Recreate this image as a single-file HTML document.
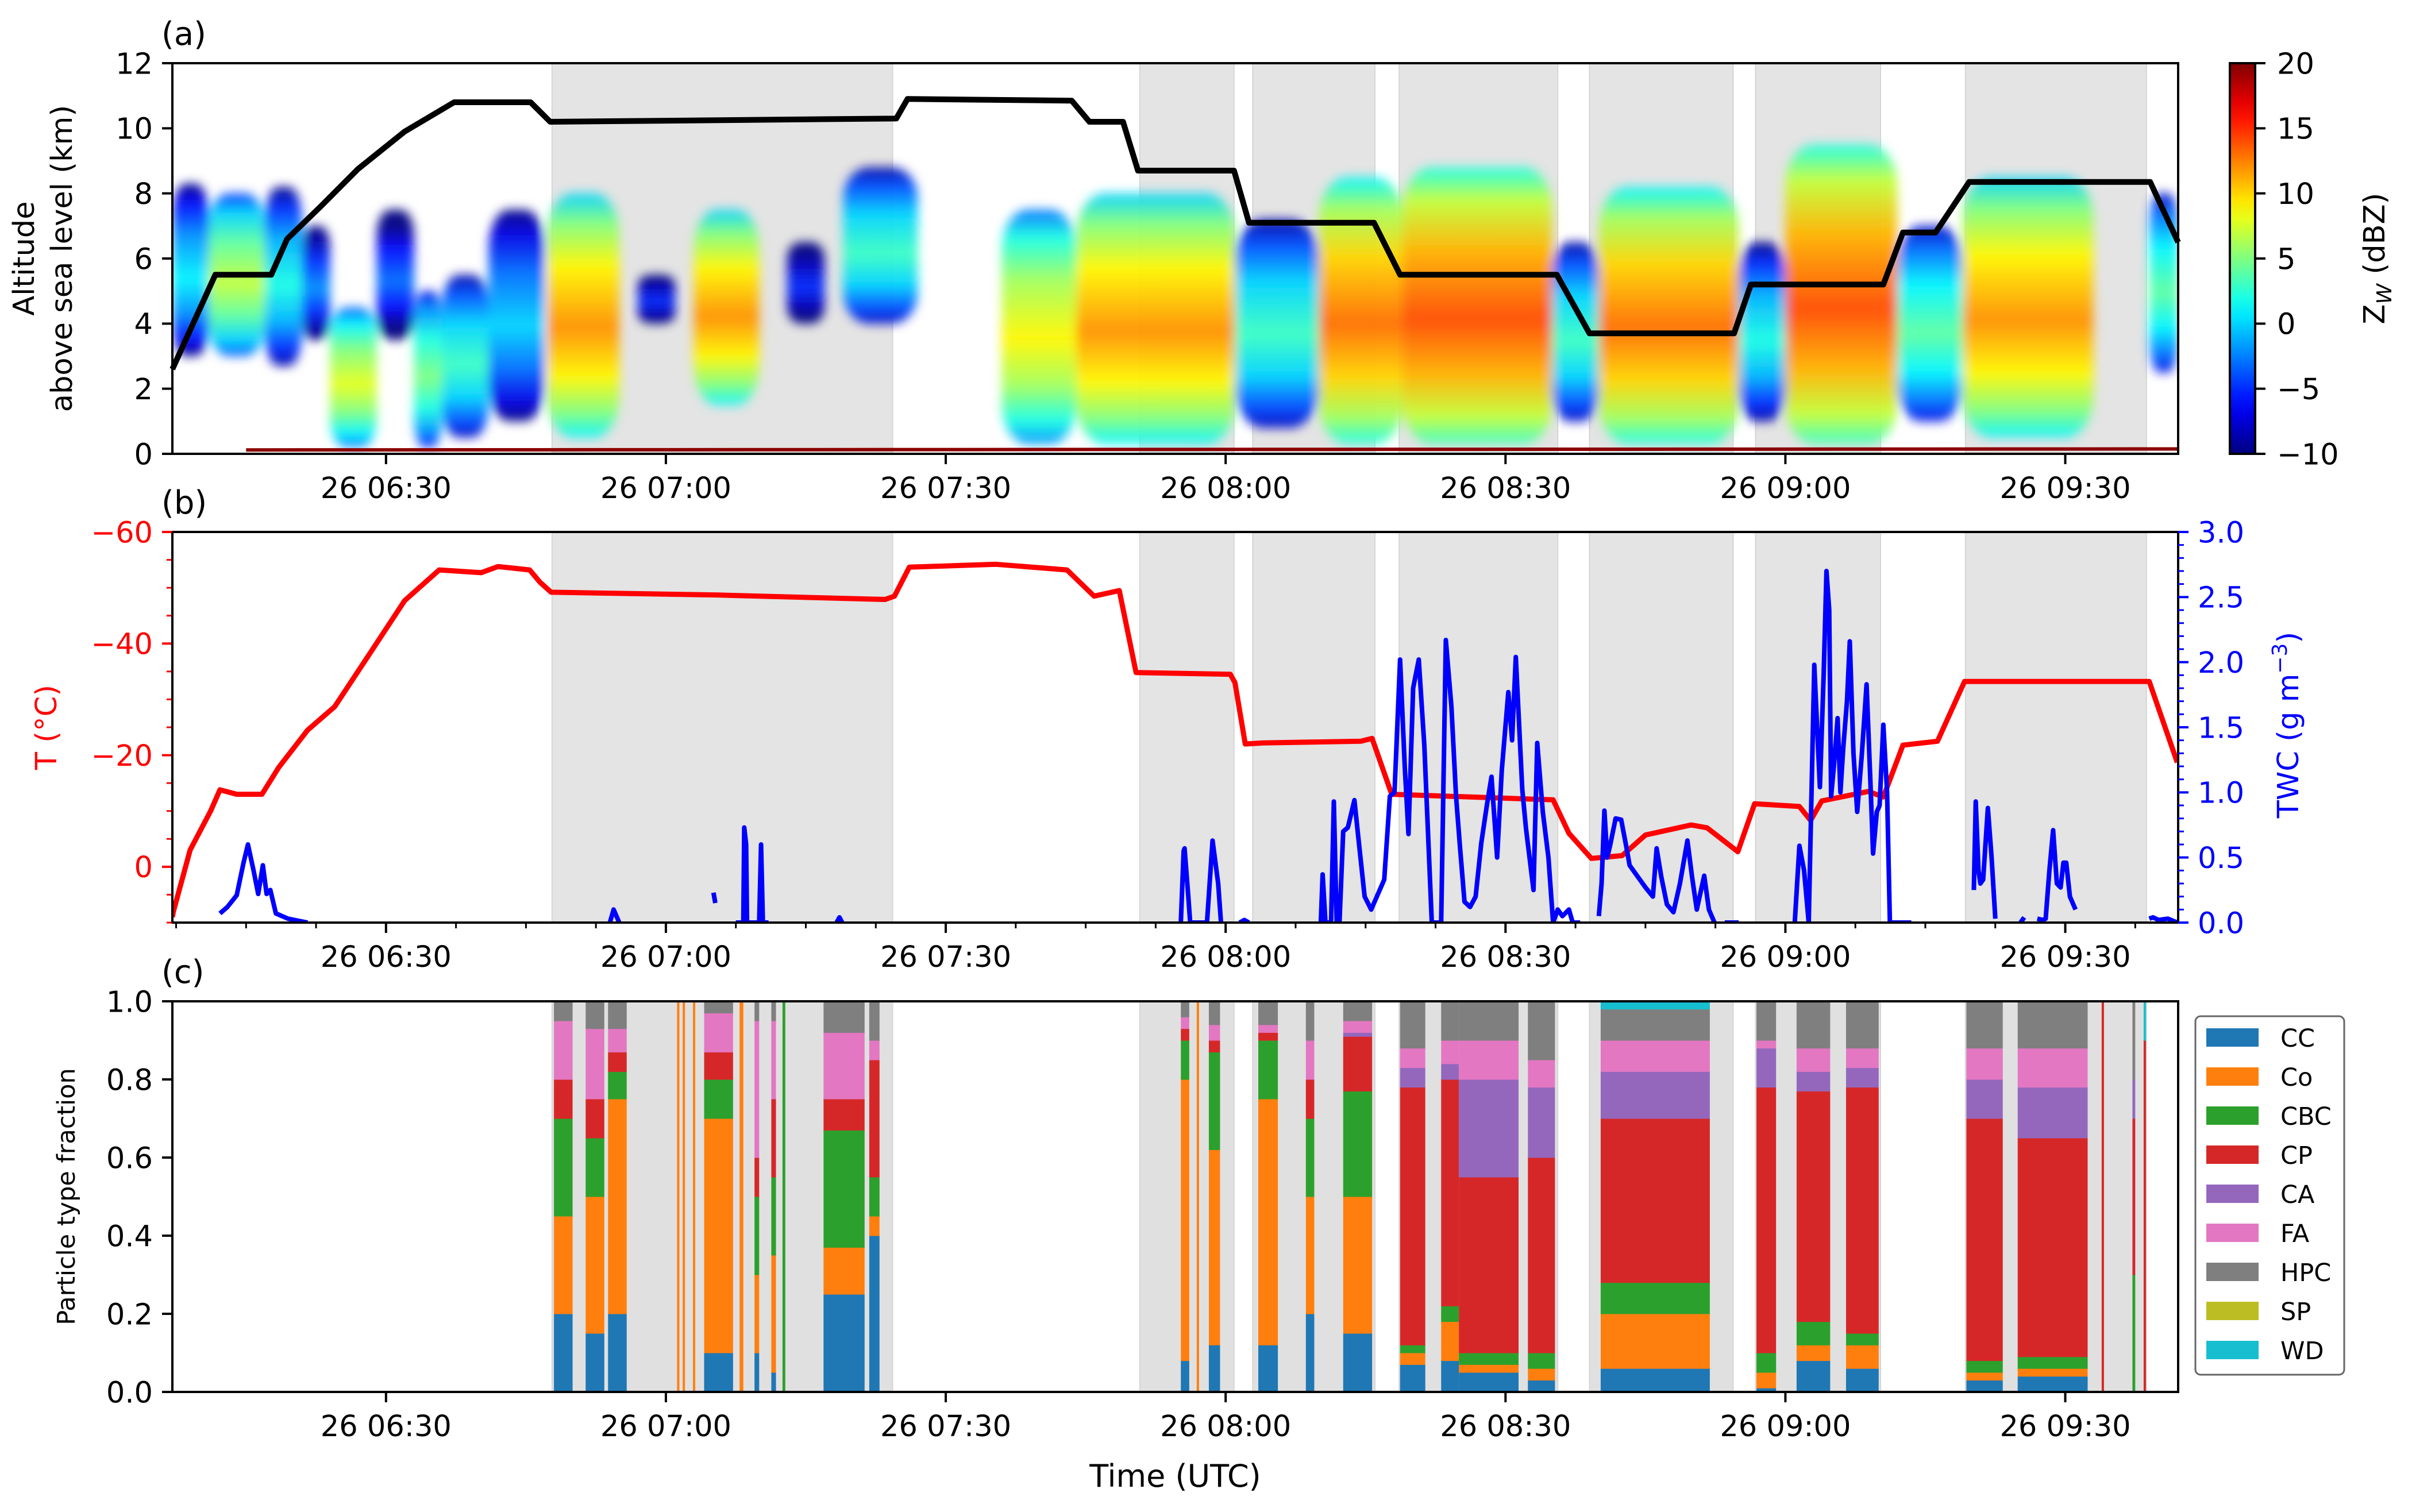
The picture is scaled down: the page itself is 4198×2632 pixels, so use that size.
<!DOCTYPE html>
<html><head><meta charset="utf-8">
<style>
html,body{margin:0;padding:0;background:#fff;}
svg{display:block;font-family:"DejaVu Sans","Liberation Sans",sans-serif;}
</style></head>
<body>
<svg id="fig" width="4198" height="2632" viewBox="0 0 4198 2632" xmlns="http://www.w3.org/2000/svg">
<defs id="defs">
<filter id="soft" x="-20%" y="-20%" width="140%" height="140%"><feGaussianBlur stdDeviation="9"/></filter>
</defs>
</svg>
<script>
// ---------- data ----------
const shadeStart = [47.8, 110.8, 122.9, 138.6, 159.0, 176.8, 199.3];
const shadeEnd   = [84.3, 120.9, 136.0, 155.6, 174.4, 190.2, 218.7];

const xTickTimes  = [30, 60, 90, 120, 150, 180, 210];
const xTickLabels = ['26 06:30','26 07:00','26 07:30','26 08:00','26 08:30','26 09:00','26 09:30'];

// altitude (km)
const altT = [7.1,11.7,17.0,17.7,19.4,23,27,32,37.3,45.5,47.6,84.7,85.9,103.5,105.4,109.0,110.6,120.9,122.5,135.9,138.7,155.5,159.0,174.5,176.3,190.5,192.6,196.1,199.7,219.1,222.1];
const altV = [2.6,5.5,5.5,5.5,6.6,7.6,8.75,9.9,10.8,10.8,10.2,10.3,10.9,10.85,10.2,10.2,8.7,8.7,7.1,7.1,5.5,5.5,3.7,3.7,5.2,5.2,6.8,6.8,8.35,8.35,6.5];

// radar cloud regions
const cloudStart = [7.1,11,17,21,24,29,33,36,41,47.3,57,63,73,79,96,104,121,130,139,155,160,175,180,192,199,219];
const cloudEnd   = [11,17,21,24,29,33,36,41,47,55,61,70,77,87,104,121,130,139,155,160,175,180,192,199,213,222.1];
const cloudBase  = [3.0,3.0,2.7,3.5,0.2,3.5,0.2,0.5,1.0,0.5,4.0,1.5,4.0,4.0,0.3,0.3,0.8,0.3,0.3,1.0,0.3,1.0,0.3,1.0,0.5,2.5];
const cloudTop   = [8.3,8.0,8.2,7.0,4.5,7.5,5.0,5.5,7.5,8.0,5.5,7.5,6.5,8.8,7.5,8.0,7.2,8.5,8.8,6.5,8.2,6.5,9.5,7.0,8.5,8.0];
const cloudPeak  = [1,7,2,-2,8,-3,5,3,0,12,-5,12,-5,3,9,12,3,13,14,3,13,2,14,4,12,4];

// temperature (degC)
const tempT = [7.1,7.2,9,11.2,12.2,14,16.7,18.5,21.6,24.5,28.3,32.0,35.7,40.2,42,45.4,46.5,47.7,65.6,83.5,84.5,86.1,95.4,103.0,105.9,108.6,110.4,120.5,121,122.1,124,134.5,135.7,137.8,155.1,156.8,159.2,162.5,165.0,169.9,171.6,174.9,176.7,181.5,182.7,183.9,188.9,190.5,192.6,196.3,199.2,219.0,222.0];
const tempV = [9,8.1,-3,-10,-13.8,-13,-13,-17.8,-24.5,-28.7,-38.3,-47.7,-53.2,-52.7,-53.8,-53.2,-51,-49.2,-48.7,-47.9,-48.5,-53.7,-54.2,-53.2,-48.5,-49.5,-34.8,-34.5,-33,-22,-22.2,-22.5,-23,-13,-12,-6,-1.5,-2,-5.7,-7.5,-7,-2.7,-11.3,-10.8,-8.3,-11.8,-13.5,-12.5,-21.8,-22.5,-33.2,-33.2,-18.7];

// total water content (g m-3); null = gap
const twcT = [12.2,13,14,14.7,15.2,15.8,16.3,16.8,17.2,17.6,18.2,19.5,21.6,null,
54.0,54.4,54.7,55,null,65.1,65.3,null,
67.5,68.3,68.4,68.6,68.7,70.0,70.2,70.4,71,null,78.3,78.6,78.9,null,
115.2,115.5,115.6,116,116.2,118.0,118.6,119.2,119.5,null,121.5,122,122.5,null,
130.2,130.4,130.7,131.3,131.6,131.9,132.2,132.6,133.1,133.8,134.3,134.9,135.6,137.0,137.6,138.1,138.7,139.2,139.6,140.1,140.7,141.3,142.1,143.1,143.6,144.2,144.7,145.1,145.6,146.2,146.8,147.4,148.0,148.5,149.1,149.6,150.3,150.7,151.1,151.8,152.2,153.0,153.4,154.0,154.6,155.1,155.6,156.1,156.8,157.2,158,null,
160.0,160.3,160.6,160.9,161.2,161.8,162.4,162.9,163.3,164.2,165.0,165.8,166.2,166.7,167.3,168.0,168.7,169.5,170.0,170.5,171.3,171.8,172.4,null,173.5,175.0,null,
181.0,181.5,182.0,182.5,183.1,183.4,183.7,184.1,184.4,184.7,184.9,185.2,185.6,185.9,186.2,186.6,186.9,187.3,187.7,188.2,188.7,189.1,189.4,189.8,190.1,190.5,190.9,191.2,193.5,null,
200.2,200.4,200.7,200.9,201.2,201.7,202.1,202.5,null,205.2,205.6,null,
207.0,207.6,207.9,208.3,208.7,209.1,209.5,209.8,210.1,210.5,211.1,null,219.0,219.4,220,221,222];
const twcV = [0.07,0.12,0.21,0.45,0.6,0.4,0.22,0.44,0.22,0.25,0.07,0.03,0,null,
0,0.1,0.05,0,null,0.23,0.15,null,
0,0,0.73,0.6,0,0,0.6,0,0,null,0,0.04,0,null,
0,0.55,0.57,0.2,0,0,0.63,0.3,0,null,0,0.02,0,null,
0,0.37,0,0,0.93,0,0,0.7,0.73,0.94,0.6,0.2,0.1,0.33,0.97,1.0,2.02,1.2,0.68,1.8,2.02,1.36,0,0,2.17,1.66,0.97,0.6,0.16,0.12,0.2,0.61,0.9,1.12,0.5,1.17,1.77,1.4,2.04,1.02,0.72,0.25,1.38,0.85,0.5,0,0.1,0.05,0.1,0,0,null,
0.05,0.3,0.86,0.5,0.59,0.8,0.79,0.6,0.44,0.35,0.27,0.2,0.57,0.35,0.14,0.08,0.3,0.63,0.35,0.1,0.36,0.1,0,null,0,0,null,
0,0.59,0.4,0,1.98,1.5,1.04,1.9,2.7,2.4,0.97,1.2,1.57,1.0,1.34,1.7,2.16,1.3,0.85,1.3,1.83,1.1,0.53,0.85,0.9,1.52,1.0,0,0,null,
0.25,0.93,0.4,0.3,0.33,0.88,0.5,0.03,null,0,0.04,null,
0.03,0.02,0.03,0.4,0.71,0.3,0.27,0.46,0.46,0.2,0.1,null,0.03,0.04,0.02,0.03,0];

// particle type fractions per segment
const classNames = ['CC','Co','CBC','CP','CA','FA','HPC','SP','WD'];
const segStart = [48.0,51.4,53.8,61.2,61.8,62.9,64.1,67.9,69.5,71.3,72.5,76.9,81.8,115.2,116.9,118.2,123.5,128.6,132.6,138.7,143.1,145.0,152.4,160.2,176.9,181.2,186.5,199.4,204.9,213.9,217.2,218.4];
const segEnd   = [50.0,53.4,55.8,61.4,62.0,63.1,67.2,68.3,70.0,71.8,72.8,81.3,82.9,116.1,117.1,119.4,125.6,129.5,135.7,141.4,145.0,151.4,155.3,171.9,179.0,184.8,190.0,203.3,212.4,214.1,217.5,218.6];
const fracCC  = [.2,.15,.2,0,0,0,.1,0,.1,.05,0,.25,.4,.08,0,.12,.12,.2,.15,.07,.08,.05,.03,.06,.01,.08,.06,.03,.04,0,0,0];
const fracCo  = [.25,.35,.55,1,1,1,.6,1,.2,.3,0,.12,.05,.72,1,.5,.63,.3,.35,.03,.1,.02,.03,.14,.04,.04,.06,.02,.02,0,0,0];
const fracCBC = [.25,.15,.07,0,0,0,.1,0,.2,.2,1,.3,.1,.1,0,.25,.15,.2,.27,.02,.04,.03,.04,.08,.05,.06,.03,.03,.03,0,.3,0];
const fracCP  = [.1,.1,.05,0,0,0,.07,0,.1,.2,0,.08,.3,.03,0,.03,.02,.1,.14,.66,.58,.45,.5,.42,.68,.59,.63,.62,.56,1,.4,.9];
const fracCA  = [0,0,0,0,0,0,0,0,0,0,0,0,0,0,0,0,0,0,.01,.05,.04,.25,.18,.12,.1,.05,.05,.1,.13,0,.1,0];
const fracFA  = [.15,.18,.06,0,0,0,.1,0,.35,.2,0,.17,.05,.03,0,.04,.02,.1,.03,.05,.06,.1,.07,.08,.02,.06,.05,.08,.1,0,0,0];
const fracHPC = [.05,.07,.07,0,0,0,.03,0,.05,.05,0,.08,.1,.04,0,.06,.06,.1,.05,.12,.1,.1,.15,.08,.1,.12,.12,.12,.12,0,.2,0];
const fracSP  = [0,0,0,0,0,0,0,0,0,0,0,0,0,0,0,0,0,0,0,0,0,0,0,0,0,0,0,0,0,0,0,0];
const fracWD  = [0,0,0,0,0,0,0,0,0,0,0,0,0,0,0,0,0,0,0,0,0,0,0,.02,0,0,0,0,0,0,0,.1];

const cbTicks = [-10,-5,0,5,10,15,20];
const altTicks = [0,2,4,6,8,10,12];
const tempTicks = [-60,-40,-20,0];
const twcTicks = [0.0,0.5,1.0,1.5,2.0,2.5,3.0];
const fracTicks = [0.0,0.2,0.4,0.6,0.8,1.0];

// ---------- layout ----------
const NS='http://www.w3.org/2000/svg';
const svg=document.getElementById('fig');
const defs=document.getElementById('defs');
const X0=300,X1=3791,TMIN=7.1,TMAX=222.1;
const xs=t=>X0+(t-TMIN)*(X1-X0)/(TMAX-TMIN);
const A={top:110,bot:790}, B={top:926,bot:1606}, C={top:1743,bot:2423};
const yAlt=v=>A.bot-(v/12)*(A.bot-A.top);
const yT=v=>B.top+(v+60)/70*(B.bot-B.top);
const yW=v=>B.bot-(v/3)*(B.bot-B.top);
const yF=v=>C.bot-v*(C.bot-C.top);
const FS=51, TL=18, TW=4;

function el(tag,attrs,parent){const e=document.createElementNS(NS,tag);for(const k in attrs)e.setAttribute(k,attrs[k]);(parent||svg).appendChild(e);return e;}
function txt(s,attrs,parent){const e=el('text',attrs,parent);e.textContent=s;return e;}
function jet(v){v=Math.max(0,Math.min(1,v));const c=x=>Math.round(255*Math.max(0,Math.min(1,x)));
 return `rgb(${c(1.5-Math.abs(4*v-3))},${c(1.5-Math.abs(4*v-2))},${c(1.5-Math.abs(4*v-1))})`;}
const nz=d=>(d+10)/30;

function linePath(T,V,fy){let d='',pen=false;for(let i=0;i<T.length;i++){if(T[i]===null||V[i]===null){pen=false;continue;}
 d+=(pen?'L':'M')+xs(T[i]).toFixed(1)+' '+fy(V[i]).toFixed(1)+' ';pen=true;}return d;}

function shading(P,name,color){const g=el('g',{});
 for(let i=0;i<shadeStart.length;i++){const r=el('rect',{x:xs(shadeStart[i]),y:P.top,width:xs(shadeEnd[i])-xs(shadeStart[i]),height:P.bot-P.top,fill:color,stroke:'#d6d6d6','stroke-width':2},g);
  }}

function frame(P,name){const r=el('rect',{x:X0,y:P.top,width:X1-X0,height:P.bot-P.top,fill:'none',stroke:'#000','stroke-width':TW});
 }

function xAxis(P,name,minor){const g=el('g',{});
 for(let i=0;i<xTickTimes.length;i++){const x=xs(xTickTimes[i]);
  el('line',{x1:x,x2:x,y1:P.bot,y2:P.bot+TL,stroke:'#000','stroke-width':TW},g);
  const t=txt(xTickLabels[i],{x:x,y:P.bot+TL+20+FS*0.76,'font-size':FS,'text-anchor':'middle'},g);
  }
 if(minor){for(let t=7.5;t<TMAX;t+=7.5){if(t%30===0)continue;const x=xs(t);el('line',{x1:x,x2:x,y1:P.bot,y2:P.bot+10,stroke:'#000','stroke-width':3},g);}}}

function yAxis(ticks,fy,name,color,fmt,side){const g=el('g',{});
 ticks.forEach(v=>{const y=fy(v);const x=side==='r'?X1:X0;const dx=side==='r'?TL:-TL;
  el('line',{x1:x,x2:x+dx,y1:y,y2:y,stroke:color,'stroke-width':TW},g);
  const t=txt(fmt(v),{x:side==='r'?x+TL+16:x-TL-16,y:y+FS*0.36,'font-size':FS,'text-anchor':side==='r'?'start':'end',fill:color},g);
  });return g;}
const minus=s=>String(s).replace('-','\u2212');

// ---------- panel (a) ----------
shading(A,'panel-a-shading','#e4e4e4');
const clipA=el('clipPath',{id:'clipA'},defs);el('rect',{x:X0,y:A.top,width:X1-X0,height:A.bot-A.top},clipA);
const radar=el('g',{'clip-path':'url(#clipA)'});
const radarInner=el('g',{filter:'url(#soft)'},radar);
for(let i=0;i<cloudStart.length;i++){
 const id='cg'+i;const lg=el('linearGradient',{id:id,x1:0,y1:0,x2:0,y2:1},defs);
 const p=cloudPeak[i];
 [[0,p-12],[0.12,p-7],[0.3,p-3],[0.55,p],[0.75,p-3],[0.9,p-7],[1,p-11]].forEach(s=>el('stop',{offset:s[0],'stop-color':jet(nz(s[1]))},lg));
 const x=xs(cloudStart[i]),w=xs(cloudEnd[i])-x,y=yAlt(cloudTop[i]),h=yAlt(cloudBase[i])-y;
 const r=el('rect',{x:x,y:y,width:w,height:h,rx:Math.min(w*0.35,50),ry:Math.min(h*0.2,70),fill:`url(#${id})`,opacity:0.95},radarInner);
 
}
const clutter=el('path',{d:`M${xs(15)} ${yAlt(0.12)} L${xs(222)} ${yAlt(0.15)}`,stroke:'#8b0000','stroke-width':6,fill:'none'});

const altLine=el('path',{d:linePath(altT,altV,yAlt),stroke:'#000','stroke-width':10,fill:'none','stroke-linejoin':'round'});

frame(A,'panel-a-frame');
xAxis(A,'panel-a-x-axis',false);
yAxis(altTicks,yAlt,'panel-a-y-axis','#000',v=>String(v),'l');
let t=txt('(a)',{x:281,y:78,'font-size':56});
const yl=txt('',{transform:'translate(59,450) rotate(-90)','font-size':FS,'text-anchor':'middle'});

el('tspan',{x:0,y:0},yl).textContent='Altitude';el('tspan',{x:0,y:66},yl).textContent='above sea level (km)';

// colorbar
const cbg=el('linearGradient',{id:'cbgrad',x1:0,y1:1,x2:0,y2:0},defs);
for(let i=0;i<=20;i++)el('stop',{offset:i/20,'stop-color':jet(i/20)},cbg);
const cbx=3881,cbw=44;
const cb=el('rect',{x:cbx,y:A.top,width:cbw,height:A.bot-A.top,fill:'url(#cbgrad)',stroke:'#000','stroke-width':TW});

const cbAx=el('g',{});
cbTicks.forEach(v=>{const y=A.bot-(v+10)/30*(A.bot-A.top);el('line',{x1:cbx+cbw,x2:cbx+cbw+TL,y1:y,y2:y,stroke:'#000','stroke-width':TW},cbAx);
 const tt=txt(minus(v),{x:cbx+cbw+TL+20,y:y+FS*0.36,'font-size':FS},cbAx);});
const cbl=txt('',{transform:'translate(4150,450) rotate(-90)','font-size':FS,'text-anchor':'middle'});

el('tspan',{},cbl).textContent='Z';el('tspan',{dy:12,'font-size':36,'font-style':'italic'},cbl).textContent='W';el('tspan',{dy:-12},cbl).textContent=' (dBZ)';

// ---------- panel (b) ----------
shading(B,'panel-b-shading','#e4e4e4');
const clip=el('clipPath',{id:'clipB'},defs);el('rect',{x:X0,y:B.top,width:X1-X0,height:B.bot-B.top},clip);
const tl=el('path',{d:linePath(tempT,tempV,yT),stroke:'#ff0000','stroke-width':9,fill:'none','stroke-linejoin':'round','clip-path':'url(#clipB)'});

const wl=el('path',{d:linePath(twcT,twcV,yW),stroke:'#0000ff','stroke-width':8,fill:'none','stroke-linejoin':'round','clip-path':'url(#clipB)'});

frame(B,'panel-b-frame');
xAxis(B,'panel-b-x-axis',true);
const ty=yAxis(tempTicks,yT,'temperature-axis','#ff0000',v=>minus(v),'l');
for(let v=-55;v<=10;v+=5){if(v%20===0)continue;const y=yT(v);el('line',{x1:X0,x2:X0-10,y1:y,y2:y,stroke:'#ff0000','stroke-width':3},ty);}
const wy=yAxis(twcTicks,yW,'twc-axis','#0000ff',v=>v.toFixed(1),'r');
for(let v=0.1;v<3;v+=0.1){const y=yW(v);el('line',{x1:X1,x2:X1+10,y1:y,y2:y,stroke:'#0000ff','stroke-width':3},wy);}
el('line',{x1:X0,x2:X0,y1:B.top,y2:B.bot,stroke:'#000','stroke-width':TW});
t=txt('(b)',{x:281,y:894,'font-size':56});
t=txt('T (°C)',{transform:'translate(98,1266) rotate(-90)','font-size':FS,'text-anchor':'middle',fill:'#ff0000'});
const wt=txt('',{transform:'translate(4000,1262) rotate(-90)','font-size':FS,'text-anchor':'middle',fill:'#0000ff'});

el('tspan',{},wt).textContent='TWC (g m';el('tspan',{dy:-20,'font-size':36},wt).textContent='\u22123';el('tspan',{dy:20},wt).textContent=')';

// ---------- panel (c) ----------
shading(C,'panel-c-shading','#e0e0e0');
const colors=['#1f77b4','#ff7f0e','#2ca02c','#d62728','#9467bd','#e377c2','#7f7f7f','#bcbd22','#17becf'];
const fr=[fracCC,fracCo,fracCBC,fracCP,fracCA,fracFA,fracHPC,fracSP,fracWD];
const stack=el('g',{});
for(let s=0;s<segStart.length;s++){let tot=0;fr.forEach(a=>tot+=a[s]);let cum=0;
 const x=xs(segStart[s]),w=Math.max(4,xs(segEnd[s])-x);
 for(let k=0;k<fr.length;k++){const f=fr[k][s]/tot;if(f<=0)continue;
  const r=el('rect',{x:x,y:yF(cum+f),width:w,height:yF(cum)-yF(cum+f)+0.5,fill:colors[k]},stack);
  cum+=f;}}
frame(C,'panel-c-frame');
xAxis(C,'panel-c-x-axis',false);
yAxis(fracTicks,yF,'fraction-axis','#000',v=>v.toFixed(1),'l');
t=txt('(c)',{x:281,y:1711,'font-size':56});
t=txt('Particle type fraction',{transform:'translate(130,2083) rotate(-90)','font-size':43,'text-anchor':'middle'});
t=txt('Time (UTC)',{x:(X0+X1)/2,y:2588,'font-size':54,'text-anchor':'middle'});

// legend
const lg=el('g',{});
el('rect',{x:3821,y:1769,width:259,height:624,rx:9,fill:'#fff',stroke:'#666','stroke-width':3},lg);
classNames.forEach((n,i)=>{const cy=1806+i*68;const e=el('g',{},lg);
 el('rect',{x:3840,y:cy-16,width:91,height:32,fill:colors[i]},e);
 txt(n,{x:3969,y:cy+16,'font-size':43},e);});
</script>
</body></html>
